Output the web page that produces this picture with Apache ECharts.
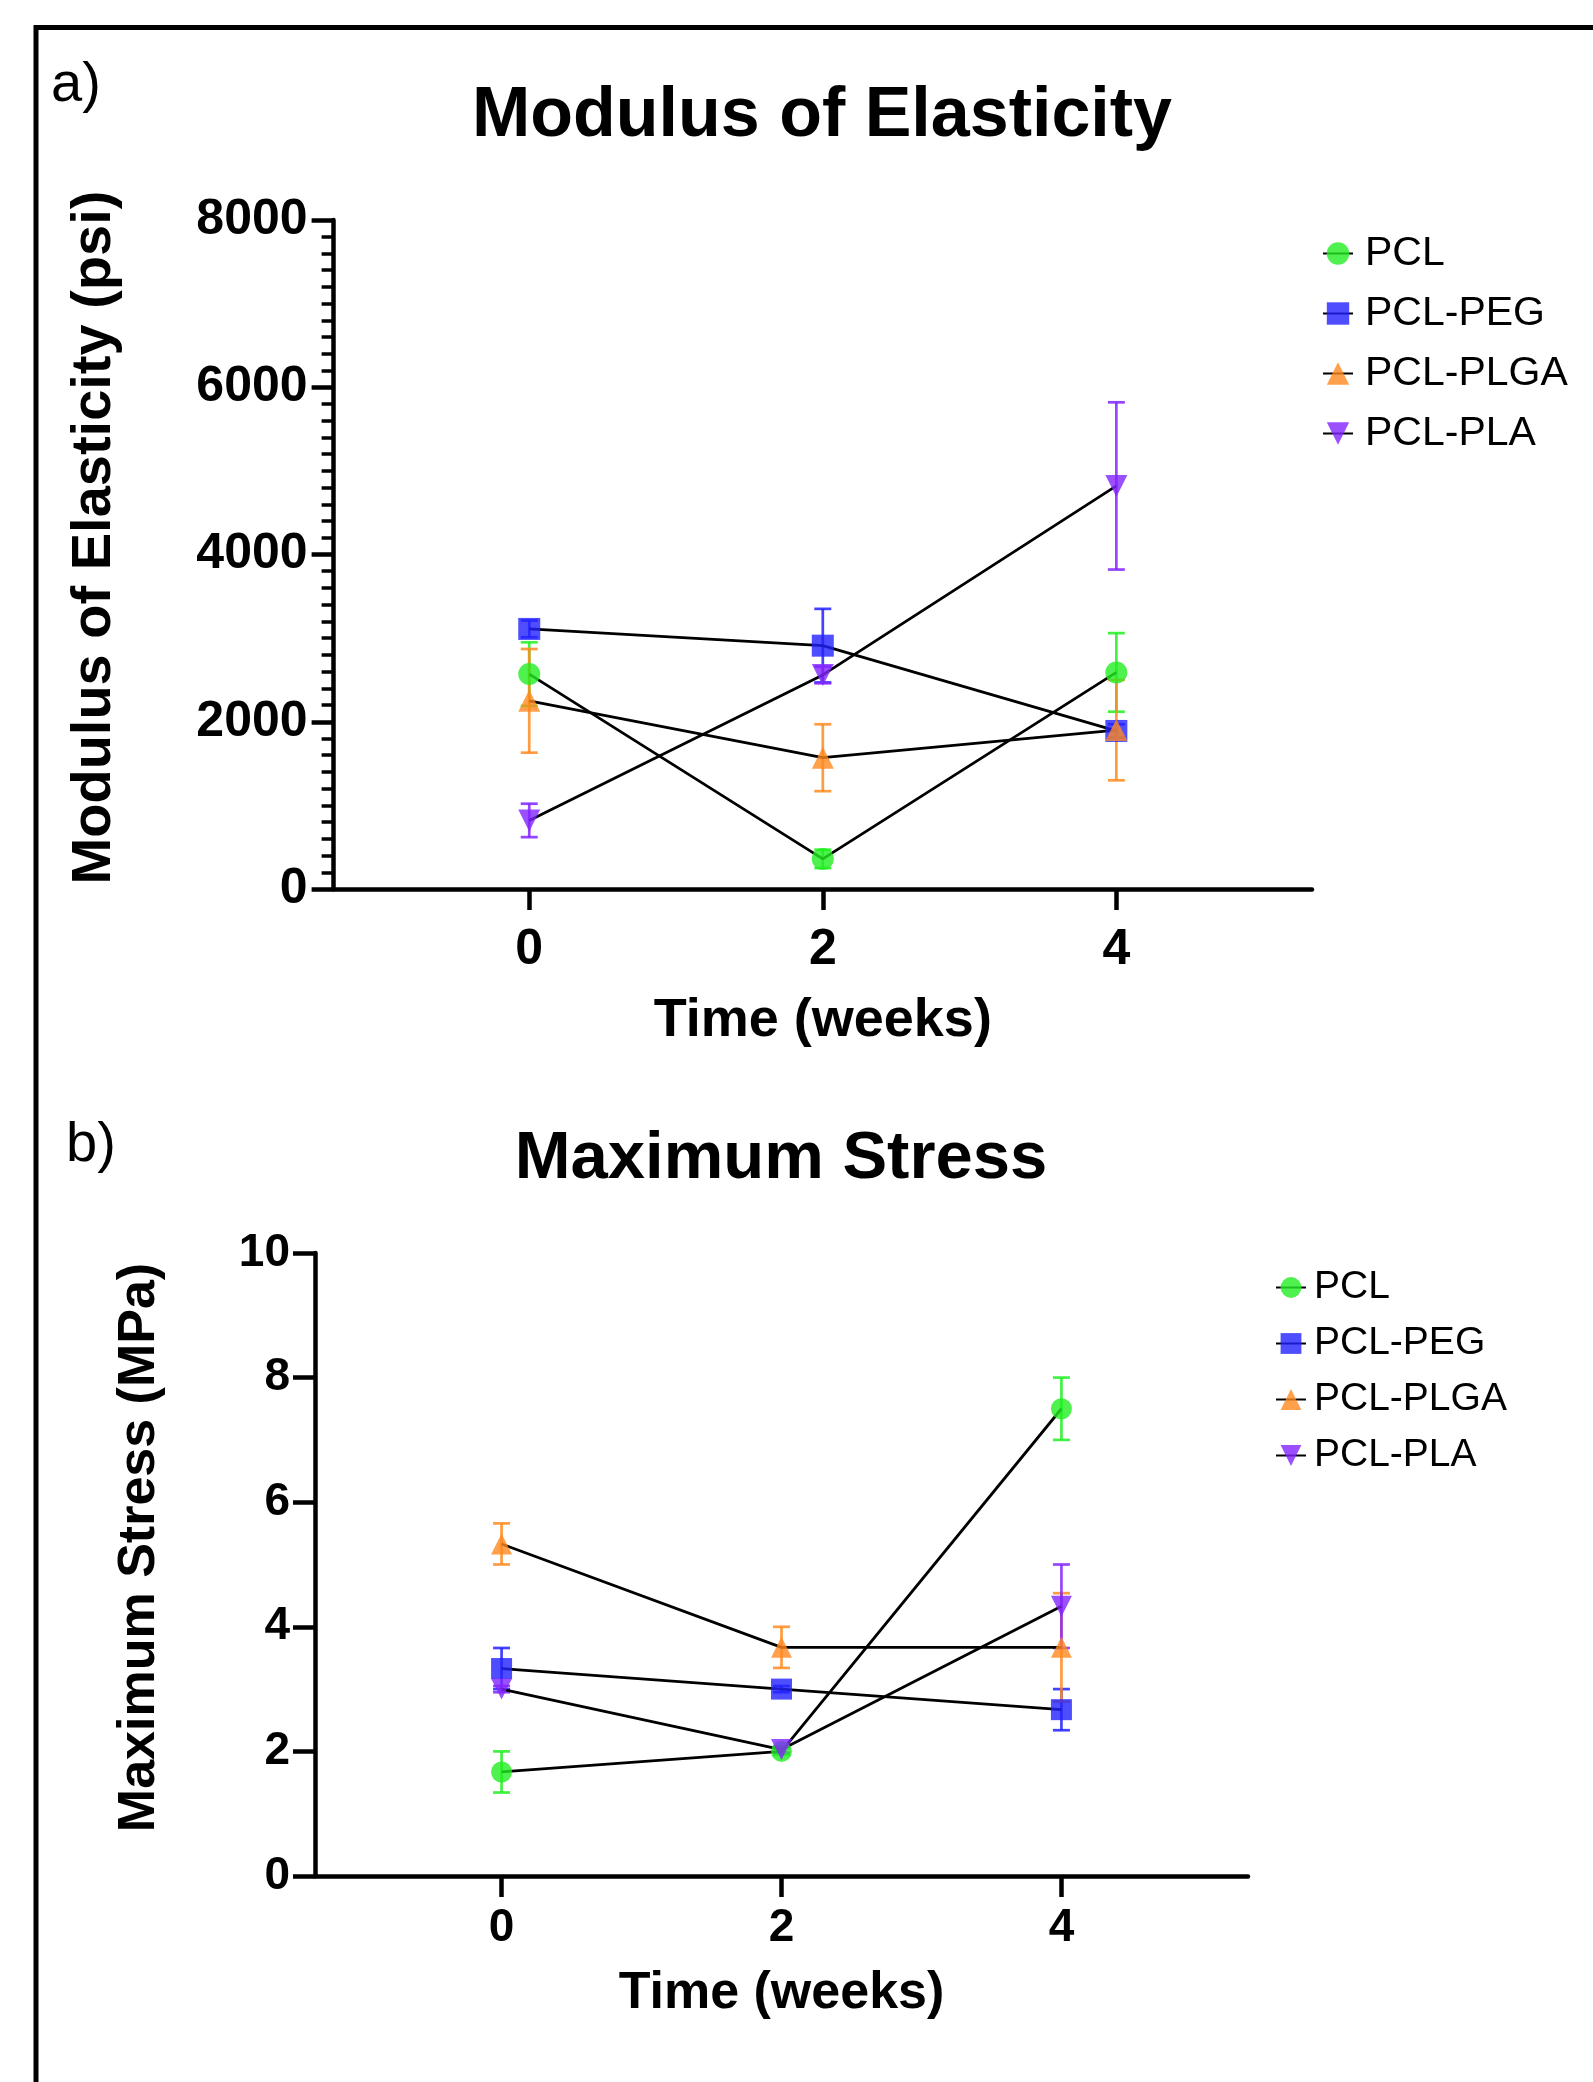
<!DOCTYPE html>
<html>
<head>
<meta charset="utf-8">
<title>Modulus of Elasticity / Maximum Stress</title>
<script src="https://cdn.jsdelivr.net/npm/echarts@6/dist/echarts.min.js"></script>
<style>
    html, body { margin: 0; padding: 0; background: #fff; }
    #chart { width: 1593px; height: 2082px; }
</style>
</head>
<body>
<div id="chart"></div>
<script>
    // time points (weeks)
    var weeks = [0, 2, 4];
    var xTicks = [0, 2, 4];
    var groups = ['PCL', 'PCL-PEG', 'PCL-PLGA', 'PCL-PLA'];

    // a) modulus of elasticity (psi), mean and error
    var modPCL = [2570, 360, 2590];
    var modPCLErr = [380, 110, 470];
    var modPEG = [3110, 2910, 1890];
    var modPEGErr = [100, 440, 80];
    var modPLGA = [2250, 1570, 1900];
    var modPLGAErr = [620, 400, 600];
    var modPLA = [820, 2560, 4820];
    var modPLAErr = [200, 100, 1000];

    // b) maximum stress (MPa), mean and error
    var strPCL = [1.67, 2.0, 7.5];
    var strPCLErr = [0.33, 0.05, 0.5];
    var strPEG = [3.33, 3.0, 2.67];
    var strPEGErr = [0.33, 0.05, 0.33];
    var strPLGA = [5.33, 3.67, 3.67];
    var strPLGAErr = [0.33, 0.33, 0.87];
    var strPLA = [3.0, 2.03, 4.33];
    var strPLAErr = [0.05, 0.05, 0.67];

    var FONT = '"Liberation Sans", Arial, Helvetica, sans-serif';
    var colors = ['#22ee22', '#2222ff', '#ff8a1f', '#8224ff'];
    var symbols = ['circle', 'rect', 'triangle', 'triangle'];
    var rotates = [0, 0, 0, 180];

    function pairs(ys) {
        return weeks.map(function (w, i) { return [w, ys[i]]; });
    }

    function ranges(ys, errs) {
        return weeks.map(function (w, i) { return [w, ys[i] - errs[i], ys[i] + errs[i]]; });
    }

    function errorBar(cap) {
        return function (params, api) {
            var top = api.coord([api.value(0), api.value(2)]);
            var bot = api.coord([api.value(0), api.value(1)]);
            var h = cap / 2;
            var style = { stroke: api.visual('color'), lineWidth: 2.7, opacity: 0.85 };
            return {
                type: 'group',
                children: [
                    { type: 'line', shape: { x1: top[0], y1: top[1], x2: bot[0], y2: bot[1] }, style: style },
                    { type: 'line', shape: { x1: top[0] - h, y1: top[1], x2: top[0] + h, y2: top[1] }, style: style },
                    { type: 'line', shape: { x1: bot[0] - h, y1: bot[1], x2: bot[0] + h, y2: bot[1] }, style: style }
                ]
            };
        };
    }

    function buildSeries(idx, means, errs, symSize) {
        var out = [];
        means.forEach(function (m, k) {
            out.push({
                name: groups[k] + ' error',
                type: 'custom',
                xAxisIndex: idx,
                yAxisIndex: idx,
                itemStyle: { color: colors[k] },
                renderItem: errorBar(17),
                encode: { x: 0, y: [1, 2] },
                data: ranges(m, errs[k]),
                silent: true
            });
        });
        means.forEach(function (m, k) {
            out.push({
                name: groups[k],
                type: 'line',
                xAxisIndex: idx,
                yAxisIndex: idx,
                symbol: symbols[k],
                symbolRotate: rotates[k],
                symbolSize: symSize,
                showAllSymbol: true,
                lineStyle: { color: '#000', width: 2.8 },
                itemStyle: { color: colors[k], opacity: 0.8 },
                data: pairs(m)
            });
        });
        return out;
    }

    function xAxis(idx, labelSize, nameSize, nameGap, labelMargin) {
        return {
            type: 'value',
            gridIndex: idx,
            min: -1.333,
            max: 5.333,
            name: 'Time (weeks)',
            nameLocation: 'middle',
            nameGap: nameGap,
            nameTextStyle: { fontFamily: FONT, fontWeight: 'bold', fontSize: nameSize, color: '#000' },
            splitLine: { show: false },
            axisLine: { onZero: false, lineStyle: { color: '#000', width: 4.5 } },
            axisTick: { customValues: xTicks, length: 21, lineStyle: { color: '#000', width: 4.5 } },
            axisLabel: {
                customValues: xTicks, margin: labelMargin,
                fontFamily: FONT, fontWeight: 'bold', fontSize: labelSize, color: '#000'
            }
        };
    }

    function plain(v) {
        return String(v);
    }

    var chart = echarts.init(document.getElementById('chart'));

    var option = {
        backgroundColor: '#fff',
        animation: false,
        title: [
            { text: 'a)', left: 51, top: 58, padding: 0,
              textStyle: { fontFamily: FONT, fontWeight: 'normal', fontSize: 56, color: '#000' } },
            { text: 'Modulus of Elasticity', left: 822, top: 82, padding: 0, textAlign: 'center',
              textStyle: { fontFamily: FONT, fontWeight: 'bold', fontSize: 70, color: '#000' } },
            { text: 'b)', left: 66, top: 1118, padding: 0,
              textStyle: { fontFamily: FONT, fontWeight: 'normal', fontSize: 56, color: '#000' } },
            { text: 'Maximum Stress', left: 781, top: 1126, padding: 0, textAlign: 'center',
              textStyle: { fontFamily: FONT, fontWeight: 'bold', fontSize: 67, color: '#000' } }
        ],
        graphic: [{
            type: 'polyline',
            shape: { points: [[36, 2100], [36, 27.5], [1600, 27.5]] },
            style: { stroke: '#000', lineWidth: 5, fill: null }
        }],
        legend: [
            {
                data: groups, left: 1317, top: 228, orient: 'vertical',
                itemWidth: 30, itemHeight: 28, itemGap: 19,
                textStyle: { fontFamily: FONT, fontSize: 41, color: '#000', padding: [0, 0, 0, 7] }
            },
            {
                data: groups, left: 1270, top: 1263, orient: 'vertical',
                itemWidth: 30, itemHeight: 26, itemGap: 17,
                textStyle: { fontFamily: FONT, fontSize: 39, color: '#000', padding: [0, 0, 0, 3] }
            }
        ],
        grid: [
            { left: 333.6, top: 220, width: 978.4, height: 669, outerBoundsMode: 'none' },
            { left: 315, top: 1253, width: 933, height: 623, outerBoundsMode: 'none' }
        ],
        xAxis: [
            xAxis(0, 50, 54, 105, 36),
            xAxis(1, 46, 52, 92, 29)
        ],
        yAxis: [
            {
                type: 'value', gridIndex: 0, min: 0, max: 8000, interval: 2000,
                name: 'Modulus of Elasticity (psi)', nameLocation: 'middle', nameGap: 211,
                nameTextStyle: { fontFamily: FONT, fontWeight: 'bold', fontSize: 56, color: '#000', padding: [0, 0, 0, 34] },
                splitLine: { show: false },
                axisLine: { show: true, onZero: false, lineStyle: { color: '#000', width: 4.5 } },
                axisTick: { show: true, length: 22, lineStyle: { color: '#000', width: 4.5 } },
                minorTick: { show: true, splitNumber: 10, length: 12, lineStyle: { color: '#000', width: 3.5 } },
                axisLabel: { margin: 26, formatter: plain, fontFamily: FONT, fontWeight: 'bold', fontSize: 50, color: '#000' }
            },
            {
                type: 'value', gridIndex: 1, min: 0, max: 10, interval: 2,
                name: 'Maximum Stress (MPa)', nameLocation: 'middle', nameGap: 149,
                nameTextStyle: { fontFamily: FONT, fontWeight: 'bold', fontSize: 52, color: '#000', padding: [0, 0, 0, 34] },
                splitLine: { show: false },
                axisLine: { show: true, onZero: false, lineStyle: { color: '#000', width: 4.5 } },
                axisTick: { show: true, length: 22, lineStyle: { color: '#000', width: 4.5 } },
                axisLabel: { margin: 25, formatter: plain, fontFamily: FONT, fontWeight: 'bold', fontSize: 46, color: '#000' }
            }
        ],
        series: buildSeries(0, [modPCL, modPEG, modPLGA, modPLA], [modPCLErr, modPEGErr, modPLGAErr, modPLAErr], 22)
            .concat(buildSeries(1, [strPCL, strPEG, strPLGA, strPLA], [strPCLErr, strPEGErr, strPLGAErr, strPLAErr], 21))
    };

    chart.setOption(option);
</script>
</body>
</html>
